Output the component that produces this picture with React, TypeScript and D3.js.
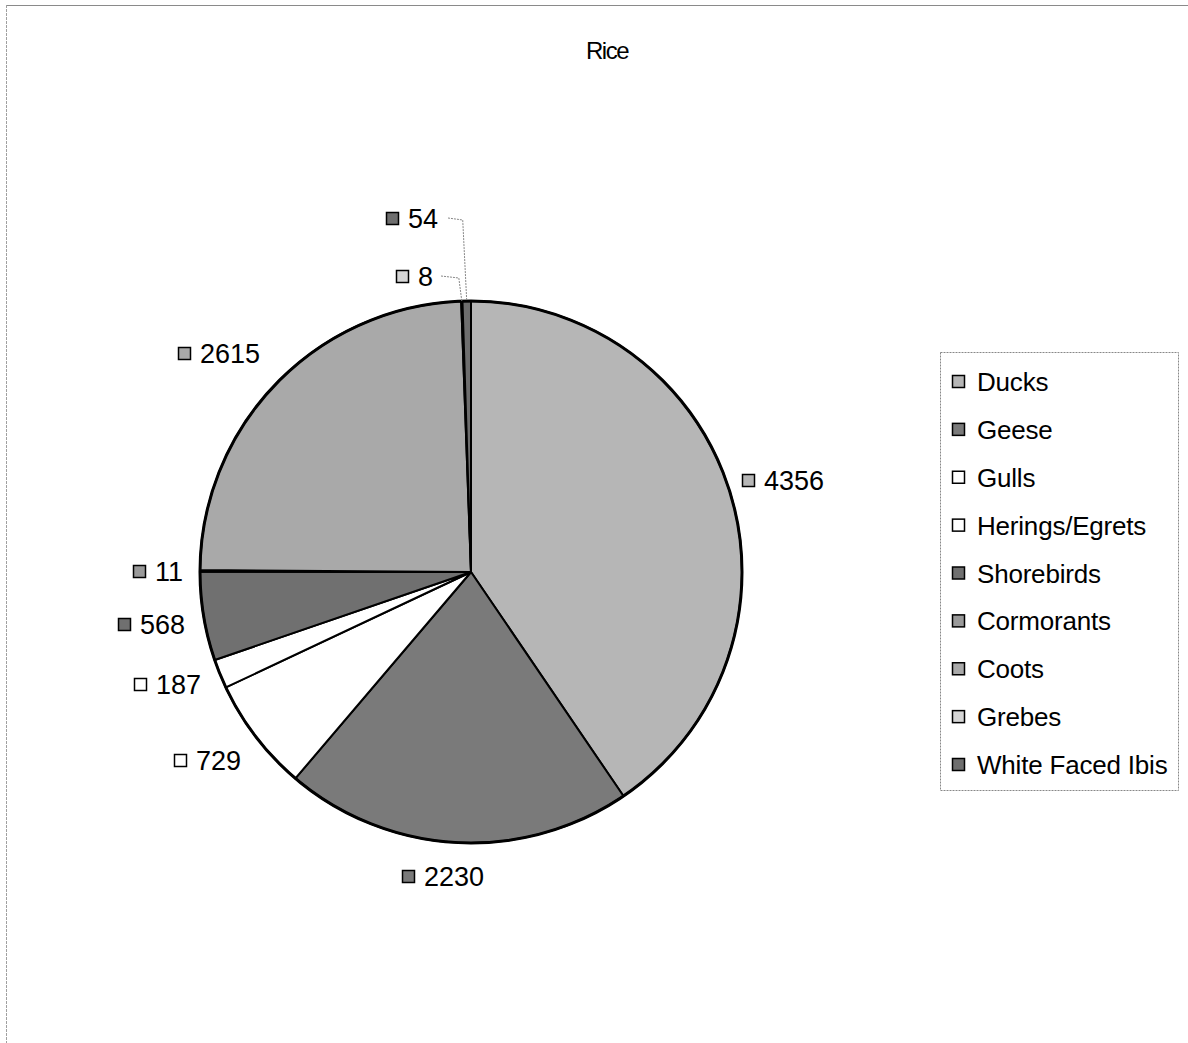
import React from "react";
import * as d3 from "d3";

const categories = [
  "Ducks",
  "Geese",
  "Gulls",
  "Herings/Egrets",
  "Shorebirds",
  "Cormorants",
  "Coots",
  "Grebes",
  "White Faced Ibis",
];
const counts = [4356, 2230, 729, 187, 568, 11, 2615, 8, 54];
const fills = [
  "#b6b6b6",
  "#7a7a7a",
  "#ffffff",
  "#ffffff",
  "#707070",
  "#9a9a9a",
  "#a9a9a9",
  "#d6d6d6",
  "#6e6e6e",
];
const title = "Rice";

// Label anchor offsets (square left edge, vertical centre) for each slice label
const labelPos: [number, number][] = [
  [742, 480],
  [402, 876],
  [174, 760],
  [134, 684],
  [118, 624],
  [133, 571],
  [178, 353],
  [396, 276],
  [386, 218],
];

const W = 1188;
const H = 1043;
const cx = 471;
const cy = 572;
const R = 271;
const FONT = "'Liberation Sans', Arial, sans-serif";

export default function App() {
  const pie = d3
    .pie<number>()
    .sort(null)
    .value((d) => d);
  const arcs = pie(counts);
  const arcGen = d3.arc<d3.PieArcDatum<number>>().innerRadius(0).outerRadius(R);

  const legendX = 940;
  const legendY = 352;
  const legendW = 238;
  const legendH = 438;
  const rowY = d3
    .scaleLinear()
    .domain([0, categories.length - 1])
    .range([381, 764]);

  // leader lines for the two thin slices near the top
  const leaderFor = (i: number, lx: number, ly: number, dx: number) => {
    const a = arcs[i];
    const mid = (a.startAngle + a.endAngle) / 2;
    const px = cx + Math.sin(mid) * R;
    const py = cy - Math.cos(mid) * R;
    return `M${lx},${ly} L${px + dx},${ly + 2} L${px},${py}`;
  };

  return (
    <svg
      width={W}
      height={H}
      style={{ position: "absolute", left: 0, top: 0, background: "#fff" }}
    >
      <rect x={0} y={0} width={W} height={H} fill="#fff" />
      {/* outer frame */}
      <line x1={6} y1={5.5} x2={W} y2={5.5} stroke="#8a8a8a" strokeWidth={1} />
      <line x1={6.5} y1={5} x2={6.5} y2={H} stroke="#a0a0a0" strokeWidth={1} strokeDasharray="3,1" />

      <text
        x={607}
        y={50}
        textAnchor="middle"
        dominantBaseline="central"
        fontFamily={FONT}
        fontSize={24}
        letterSpacing={-1.5}
        fill="#000"
      >
        {title}
      </text>

      <g transform={`translate(${cx},${cy})`}>
        {arcs.map((a, i) => (
          <path
            key={categories[i]}
            d={arcGen(a) || ""}
            fill={fills[i]}
            stroke="#000"
            strokeWidth={2}
            strokeLinejoin="round"
          />
        ))}
        <circle r={R} fill="none" stroke="#000" strokeWidth={3} />
      </g>

      <path
        d={leaderFor(8, 448, 218, -4)}
        fill="none"
        stroke="#888"
        strokeWidth={1}
        strokeDasharray="2,1"
      />
      <path
        d={leaderFor(7, 441, 276, -3)}
        fill="none"
        stroke="#888"
        strokeWidth={1}
        strokeDasharray="2,1"
      />

      {counts.map((v, i) => {
        const [lx, ly] = labelPos[i];
        return (
          <g key={`lab-${i}`}>
            <rect
              x={lx + 0.5}
              y={ly - 5.5}
              width={12}
              height={12}
              fill={fills[i]}
              stroke="#000"
              strokeWidth={1.5}
            />
            <text
              x={lx + 22}
              y={ly + 1}
              dominantBaseline="central"
              fontFamily={FONT}
              fontSize={27}
              letterSpacing={0}
              fill="#000"
            >
              {v}
            </text>
          </g>
        );
      })}

      <rect
        x={legendX + 0.5}
        y={legendY + 0.5}
        width={legendW}
        height={legendH}
        fill="#fff"
        stroke="#888"
        strokeWidth={1}
        strokeDasharray="2,1"
      />
      {categories.map((c, i) => (
        <g key={c}>
          <rect
            x={952.5}
            y={rowY(i) - 5.5}
            width={12}
            height={12}
            fill={fills[i]}
            stroke="#000"
            strokeWidth={1.5}
          />
          <text
            x={977}
            y={rowY(i) + 1}
            dominantBaseline="central"
            fontFamily={FONT}
            fontSize={26}
            letterSpacing={-0.2}
            fill="#000"
          >
            {c}
          </text>
        </g>
      ))}
    </svg>
  );
}
